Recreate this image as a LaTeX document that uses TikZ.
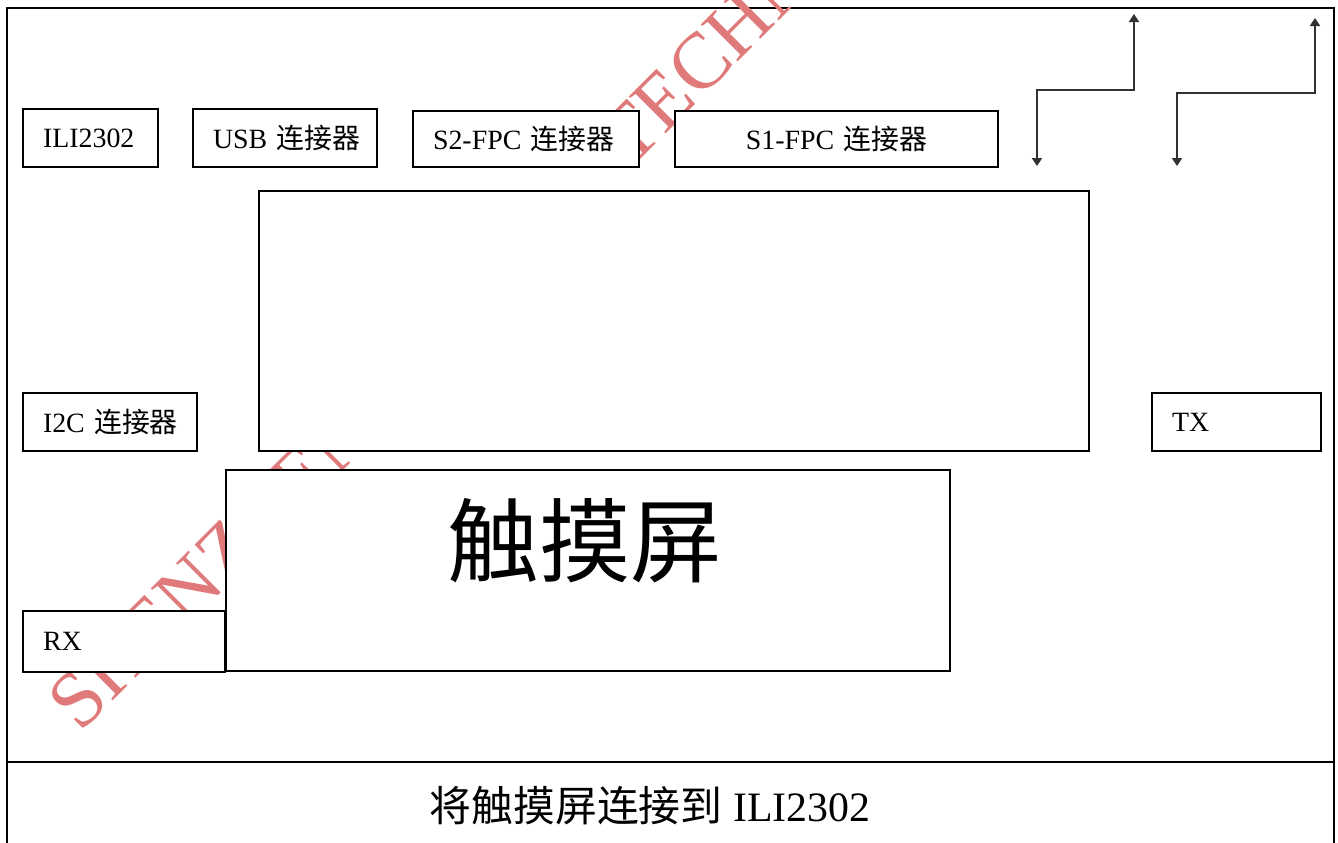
\documentclass[tikz,border=0pt]{standalone}
\usepackage{fontspec}
\setmainfont{Liberation Serif}
\newfontfamily\cjk{Noto Sans CJK SC}
\usetikzlibrary{arrows.meta}
\definecolor{wmred}{RGB}{224,122,122}
\definecolor{lngray}{RGB}{50,50,50}
\begin{document}
\begin{tikzpicture}[x=1bp,y=-1bp,
  frame/.style={draw=black,line width=1.2bp},
  box/.style={draw=black,line width=2bp,fill=white,anchor=north west,
    inner xsep=20bp,inner ysep=0pt,align=left,
    font=\fontsize{28}{30}\selectfont},
  panel/.style={draw=black,line width=2bp,fill=white,anchor=north west,inner sep=0pt},
  zig/.style={draw=lngray,line width=2.6bp,{Triangle[width=10bp,length=8bp]}-{Triangle[width=10bp,length=8bp]}},
  wmark/.style={text=wmred,inner sep=0pt,font=\fontsize{80}{80}\selectfont,rotate=45,anchor=base west}]
\useasboundingbox (0,0) rectangle (1338,842);
% outer frame and divider
\draw[frame] (7,8) rectangle (1334,870);
\coordinate (dl) at (7,762);
\coordinate (dr) at (1334,762);
\draw[frame] (dl) -- (dr);
% watermark (visible parts)
\node[wmark] (wm1) at (80,734) {SHENZHEN};
\node[wmark] (wm2) at (630,170) {TECHNOLOGY};
% boxes
\node[box,text width=95bp,minimum height=58bp] (ili) at (22,108) {\mbox{ILI2302}};
\node[box,text width=144bp,minimum height=58bp] (usb) at (192,108) {\mbox{USB {\cjk 连接器}}};
\node[box,text width=186bp,minimum height=56bp] (s2) at (412,110) {\mbox{S2-FPC {\cjk 连接器}}};
\node[box,text width=283bp,minimum height=56bp,align=center] (s1) at (674,110) {\mbox{S1-FPC {\cjk 连接器}}};
\node[panel,minimum width=830bp,minimum height=260bp] (big) at (258,190) {};
\node[box,text width=134bp,minimum height=58bp] (i2c) at (22,392) {\mbox{I2C {\cjk 连接器}}};
\node[box,text width=129bp,minimum height=58bp] (tx) at (1151,392) {\mbox{TX}};
\node[panel,minimum width=724bp,minimum height=201bp] (touch) at (225,469) {};
\node[box,text width=162bp,minimum height=61bp] (rx) at (22,610) {\mbox{RX}};
\node[inner sep=0pt,font=\fontsize{92}{96}\selectfont] (touchlbl) at (585,541) {\cjk 触摸屏};
% zigzag arrows
\coordinate (la) at (1037,166);
\coordinate (lb) at (1037,90);
\coordinate (lc) at (1134,90);
\coordinate (ld) at (1134,14);
\draw[zig] (la) -- (lb) -- (lc) -- (ld);
\coordinate (ra) at (1177,166);
\coordinate (rb) at (1177,93);
\coordinate (rc) at (1315,93);
\coordinate (rd) at (1315,18);
\draw[zig] (ra) -- (rb) -- (rc) -- (rd);
% caption
\node[inner sep=0pt,font=\fontsize{42}{44}\selectfont] (cap) at (650,806) {{\cjk 将触摸屏连接到} ILI2302};
\end{tikzpicture}
\end{document}
